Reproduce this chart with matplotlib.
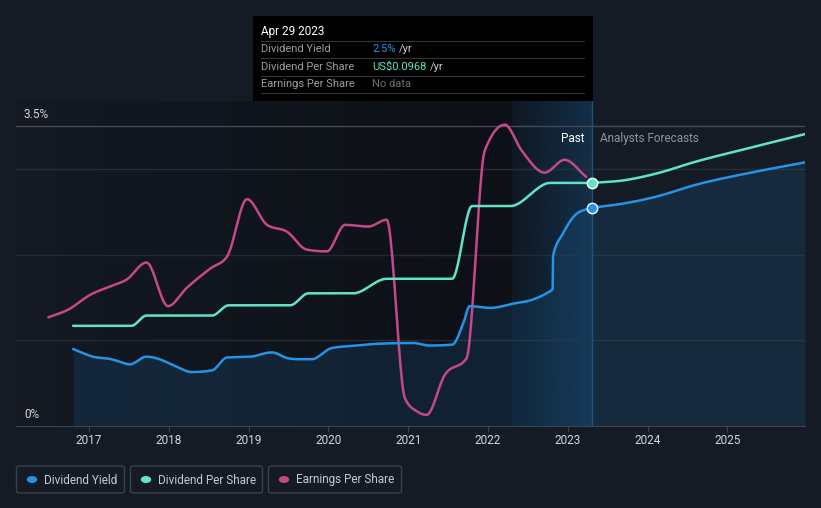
import numpy as np
import matplotlib.pyplot as plt
from matplotlib.patches import Rectangle, FancyBboxPatch, Circle
from matplotlib.colors import to_rgb

plt.rcParams['font.family'] = ['Roboto', 'DejaVu Sans']

# Values (x in fractional years, y in % of the yield axis;
# DPS and EPS are drawn on the same scale as in the picture)
dy_x = [2016.80, 2017.05, 2017.28, 2017.39, 2017.51, 2017.72, 2017.85, 2018.06, 2018.29,
        2018.54, 2018.73, 2019.02, 2019.29, 2019.50, 2019.64, 2019.79, 2020.04, 2020.35,
        2020.60, 2021.06, 2021.27, 2021.55, 2021.69, 2021.77, 2022.03, 2022.32, 2022.57,
        2022.73, 2022.81, 2022.815, 2022.94, 2023.11, 2023.30]
dy_y = [0.90, 0.81, 0.78, 0.75, 0.72, 0.81, 0.79, 0.71, 0.63,
        0.65, 0.80, 0.81, 0.86, 0.79, 0.78, 0.78, 0.91, 0.94,
        0.96, 0.97, 0.94, 0.95, 1.20, 1.40, 1.38, 1.43, 1.48,
        1.55, 1.60, 1.99, 2.25, 2.48, 2.55]
dy_fx = [2023.30, 2023.70, 2024.11, 2024.61, 2025.24, 2025.97]
dy_fy = [2.55, 2.60, 2.68, 2.82, 2.95, 3.08]

dps_x = [2016.80, 2017.53, 2017.72, 2018.54, 2018.75, 2019.52, 2019.75, 2020.31,
         2020.73, 2021.55, 2021.80, 2022.28, 2022.78, 2023.30]
dps_y = [1.17, 1.17, 1.29, 1.29, 1.41, 1.41, 1.55, 1.55,
         1.72, 1.72, 2.57, 2.57, 2.84, 2.84]
dps_fx = [2023.30, 2023.70, 2024.11, 2024.61, 2025.24, 2025.97]
dps_fy = [2.84, 2.87, 2.95, 3.09, 3.24, 3.41]

eps_x = [2016.49, 2016.74, 2017.01, 2017.26, 2017.47, 2017.72, 2017.99,
         2018.22, 2018.52, 2018.73, 2018.98, 2019.23, 2019.48,
         2019.73, 2019.98, 2020.21, 2020.50, 2020.73, 2020.96, 2021.11,
         2021.23, 2021.46, 2021.73, 2021.96, 2022.21, 2022.42,
         2022.71, 2022.96, 2023.23]
eps_y = [1.27, 1.36, 1.53, 1.63, 1.71, 1.91, 1.40,
         1.61, 1.84, 1.98, 2.65, 2.35, 2.27,
         2.06, 2.04, 2.35, 2.33, 2.41, 0.32, 0.17,
         0.13, 0.60, 0.79, 3.22, 3.52, 3.22,
         2.96, 3.11, 2.91]

years = [2017, 2018, 2019, 2020, 2021, 2022, 2023, 2024, 2025]
now_x = 2023.30
band_start = 2022.30

W, H = 821, 508
BG = '#151b25'
BLUE = '#2394e6'
TEAL = '#62e3c9'
PINK = '#c4488a'


def px(x, y):
    return x / W, 1 - y / H


def monotone(xs, ys, n=24):
    # monotone cubic rendering of a line (like d3 curveMonotoneX)
    x = np.asarray(xs, float)
    y = np.asarray(ys, float)
    h = np.diff(x)
    s = np.diff(y) / h
    m = np.zeros_like(x)
    for k in range(1, len(x) - 1):
        p = (s[k - 1] * h[k] + s[k] * h[k - 1]) / (h[k - 1] + h[k])
        m[k] = (np.sign(s[k - 1]) + np.sign(s[k])) * min(abs(s[k - 1]), abs(s[k]), 0.5 * abs(p))
    m[0] = s[0]
    m[-1] = s[-1]
    ox, oy = [], []
    t = np.linspace(0, 1, n, endpoint=False)
    for k in range(len(h)):
        h00 = 2 * t**3 - 3 * t**2 + 1
        h10 = t**3 - 2 * t**2 + t
        h01 = -2 * t**3 + 3 * t**2
        h11 = t**3 - t**2
        ox.append(x[k] + t * h[k])
        oy.append(h00 * y[k] + h10 * h[k] * m[k] + h01 * y[k + 1] + h11 * h[k] * m[k + 1])
    ox.append([x[-1]])
    oy.append([y[-1]])
    return np.concatenate(ox), np.concatenate(oy)


fig = plt.figure(figsize=(W / 100, H / 100), dpi=100, facecolor=BG)
ax = fig.add_axes([16 / W, 82 / H, (805 - 16) / W, (426 - 101) / H])
ax.set_facecolor(BG)
x0, x1 = 2016.085, 2025.972
ax.set_xlim(x0, x1)
ax.set_ylim(0, 3.797)

# past area: darkening gradient
c_left = np.array(to_rgb('#141922'))
c_right = np.array(to_rgb('#0d1016'))
t = np.linspace(0, 1, 200)[None, :, None]
grad = c_left * (1 - t) + c_right * t
ax.imshow(grad, extent=[x0, band_start, 0, 3.797], aspect='auto', zorder=0)

# highlight band before "now"
band = np.zeros((1, 100, 4))
band[..., :3] = to_rgb('#1d5a8c')
band[..., 3] = np.linspace(0.12, 0.42, 100)
ax.imshow(np.tile(to_rgb('#0d1016'), (1, 100, 1)), extent=[band_start, now_x, 0, 3.797],
          aspect='auto', zorder=0)
ax.imshow(band, extent=[band_start, now_x, 0, 3.797], aspect='auto', zorder=0.5)

# grid
for g, c in [(1, '#262b33'), (2, '#262b33'), (3, '#2a2f37'), (3.5, '#444952')]:
    ax.axhline(g, color=c, lw=1, zorder=1)
ax.axvline(now_x, color='#1f4e78', lw=1, zorder=1)

# curves
dyx, dyy = monotone(dy_x, dy_y)
dyfx, dyfy = monotone(dy_fx, dy_fy)
dpx, dpy = monotone(dps_x, dps_y)
dpfx, dpfy = monotone(dps_fx, dps_fy)
epx, epy = monotone(eps_x, eps_y)

ax.fill_between(np.concatenate([dyx, dyfx]), 0, np.concatenate([dyy, dyfy]),
                color='#1e6fb0', alpha=0.18, lw=0, zorder=1.5)

kw = dict(lw=1.8, zorder=3, solid_capstyle='round', solid_joinstyle='round')
ax.plot(epx, epy, color=PINK, **kw)
ax.plot(dpx, dpy, color=TEAL, **kw)
ax.plot(dpfx, dpfy, color=TEAL, **kw)
ax.plot(dyx, dyy, color=BLUE, **kw)
ax.plot(dyfx, dyfy, color=BLUE, **kw)
ax.plot([now_x], [dps_y[-1]], 'o', ms=7.5, color=TEAL, mec='white', mew=1, zorder=4)
ax.plot([now_x], [dy_y[-1]], 'o', ms=7.5, color=BLUE, mec='white', mew=1, zorder=4)

# axes styling
for s in ['top', 'right', 'left']:
    ax.spines[s].set_visible(False)
ax.spines['bottom'].set_color('#3e434b')
ax.set_yticks([])
ax.set_xticks(years)
ax.set_xticklabels([str(y) for y in years])
ax.tick_params(axis='x', colors='#3e434b', labelcolor='#d4d7dc', labelsize=8.5, length=4, pad=2)

# y labels
ax.text(2016.185, 3.5 + 0.06, '3.5%', color='#d4d7dc', fontsize=8.5, va='bottom', ha='left')
ax.text(2016.185, 0.06, '0%', color='#d4d7dc', fontsize=8.5, va='bottom', ha='left')

ax.text(now_x - 0.09, 3.36, 'Past', color='white', fontsize=8.5, ha='right', va='center')
ax.text(now_x + 0.1, 3.36, 'Analysts Forecasts', color='#8e949c', fontsize=8.5, ha='left', va='center')

# tooltip
fig.add_artist(Rectangle(px(253, 101), 340 / W, 85 / H, transform=fig.transFigure,
                         facecolor='black', edgecolor='none', zorder=10))
fig.text(*px(261, 31), 'Apr 29 2023', color='white', fontsize=8.5, va='center', zorder=11)
for yy in [41, 58, 76, 93]:
    fig.add_artist(plt.Line2D([261 / W, 584 / W], [1 - yy / H] * 2, color='#333539', lw=0.8, zorder=11))
rows = [('Dividend Yield', '2.5%', BLUE, 399), ('Dividend Per Share', 'US$0.0968', TEAL, 430),
        ('Earnings Per Share', 'No data', '#6a6f76', None)]
for i, (lab, val, col, sx) in enumerate(rows):
    yy = 49 + i * 17.5
    fig.text(*px(261, yy), lab, color='#9a9fa6', fontsize=8, va='center', zorder=11)
    fig.text(*px(372, yy), val, color=col, fontsize=8, va='center', zorder=11)
    if sx:
        fig.text(*px(sx, yy), '/yr', color='#c9ccd1', fontsize=8, va='center', zorder=11)

# legend
legend = [('Dividend Yield', BLUE, 16, 125), ('Dividend Per Share', TEAL, 130, 263),
          ('Earnings Per Share', PINK, 268, 402)]
for lab, col, lx0, lx1 in legend:
    fig.add_artist(FancyBboxPatch(px(lx0 + 0.5, 493), (lx1 - lx0 - 1) / W, 27 / H,
                                  boxstyle='round,pad=0,rounding_size=0.004',
                                  transform=fig.transFigure, facecolor='none',
                                  edgecolor='#3b4049', lw=1))
    fig.add_artist(Circle(px(lx0 + 16, 479.5), 4.5 / W, transform=fig.transFigure,
                          color=col, zorder=5))
    fig.text(*px(lx0 + 28, 480), lab, color='#c6cad0', fontsize=8.5, va='center')

fig.savefig('out.png', dpi=100, facecolor=BG)
